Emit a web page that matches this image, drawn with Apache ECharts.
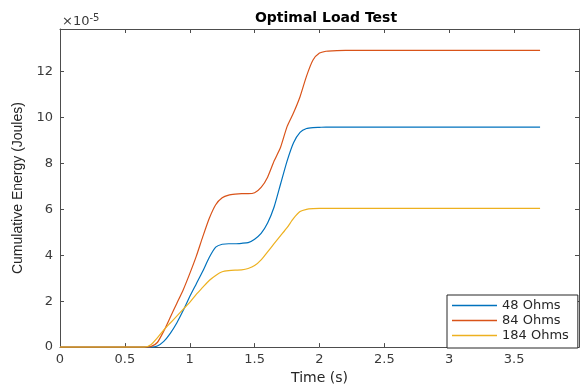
<!DOCTYPE html>
<html lang="en">
<head>
<meta charset="utf-8">
<title>Optimal Load Test</title>
<script src="https://cdn.jsdelivr.net/npm/echarts@6/dist/echarts.min.js"></script>
<style>
  html, body { margin: 0; padding: 0; background: #fff; }
  #main { width: 584px; height: 390px; }
</style>
</head>
<body>
<div id="main"></div>
<script>
// time (s)
var time = [0, 0.5, 0.65, 0.7, 0.75, 0.8, 0.85, 0.9, 0.95, 1.0, 1.05, 1.1, 1.15, 1.2, 1.25, 1.3,
            1.35, 1.4, 1.45, 1.5, 1.55, 1.6, 1.65, 1.7, 1.75, 1.8, 1.85, 1.9, 1.95, 2.0, 2.05,
            2.1, 2.2, 3.7];
// cumulative energy, units of 1e-5 J
var ohms48 = [0, 0, 0, 0, 0.05, 0.25, 0.6, 1.05, 1.6, 2.2, 2.75, 3.3, 3.9, 4.35, 4.48, 4.5,
              4.5, 4.52, 4.55, 4.7, 4.95, 5.4, 6.1, 7.1, 8.1, 8.9, 9.35, 9.52, 9.56, 9.57, 9.58,
              9.58, 9.58, 9.58];
var ohms84 = [0, 0, 0, 0.02, 0.2, 0.7, 1.3, 1.9, 2.5, 3.2, 3.95, 4.8, 5.6, 6.2, 6.5, 6.62,
              6.66, 6.68, 6.68, 6.72, 6.95, 7.4, 8.1, 8.7, 9.6, 10.2, 10.9, 11.8, 12.5, 12.8, 12.88,
              12.9, 12.92, 12.92];
var ohms184 = [0, 0, 0, 0.1, 0.4, 0.75, 1.05, 1.35, 1.65, 1.95, 2.3, 2.6, 2.9, 3.12, 3.28, 3.33,
               3.35, 3.36, 3.42, 3.55, 3.8, 4.15, 4.5, 4.85, 5.2, 5.6, 5.9, 6.0, 6.03, 6.04, 6.04,
               6.04, 6.04, 6.04];
var xTicks = [0, 0.5, 1, 1.5, 2, 2.5, 3, 3.5];
var yTicks = [0, 2, 4, 6, 8, 10, 12];

function pairs(ys) {
    return time.map(function (t, i) { return [t, ys[i]]; });
}

var font = 'DejaVu Sans';
var axisCol = '#4d4d4d';
var chart = echarts.init(document.getElementById('main'));

var baseX = {
    type: 'value', min: 0, max: 4, interval: 0.5,
    axisLine: { show: true, onZero: false, lineStyle: { color: axisCol } },
    axisTick: { show: true, inside: true, length: 4, lineStyle: { color: axisCol } },
    splitLine: { show: false }
};
var baseY = {
    type: 'value', min: 0, max: 13.85, interval: 2,
    axisLine: { show: true, onZero: false, lineStyle: { color: axisCol } },
    axisTick: { show: true, inside: true, length: 4, lineStyle: { color: axisCol } },
    splitLine: { show: false }
};

function mkSeries(name, ys, color) {
    return {
        name: name, type: 'line', data: pairs(ys), symbol: 'none', smooth: 0.2,
        lineStyle: { width: 1.2, color: color }, itemStyle: { color: color },
        xAxisIndex: 0, yAxisIndex: 0
    };
}

chart.setOption({
    backgroundColor: '#fff',
    animation: false,
    title: {
        text: 'Optimal Load Test', left: 321, top: 6, textAlign: 'center',
        textStyle: { fontFamily: font, fontSize: 14, fontWeight: 'bold', color: '#000' }
    },
    grid: { left: 60, right: 5, top: 29, bottom: 40, containLabel: false },
    xAxis: [
        Object.assign({}, baseX, {
            position: 'bottom',
            name: 'Time (s)', nameLocation: 'middle', nameGap: 22,
            nameTextStyle: { fontFamily: font, fontSize: 14, color: '#262626' },
            axisLabel: {
                fontFamily: font, fontSize: 13, color: '#3a3a3a', margin: 6,
                formatter: function (v) { return xTicks.indexOf(v) >= 0 ? String(v) : ''; }
            }
        }),
        Object.assign({}, baseX, { position: 'top', axisLabel: { show: false } })
    ],
    yAxis: [
        Object.assign({}, baseY, {
            position: 'left',
            name: 'Cumulative Energy (Joules)', nameLocation: 'middle', nameGap: 32,
            nameTextStyle: { fontFamily: 'Liberation Sans', fontSize: 14, color: '#262626' },
            axisLabel: {
                fontFamily: font, fontSize: 13, color: '#3a3a3a', margin: 7,
                formatter: function (v) { return yTicks.indexOf(v) >= 0 ? String(v) : ''; }
            }
        }),
        Object.assign({}, baseY, { position: 'right', axisLabel: { show: false } })
    ],
    legend: {
        orient: 'vertical', left: 447, top: 295,
        data: ['48 Ohms', '84 Ohms', '184 Ohms'],
        icon: 'rect', itemWidth: 45, itemHeight: 1.5, itemGap: 2,
        padding: [4, 9, 6, 5],
        backgroundColor: '#fff', borderColor: '#262626', borderWidth: 1, borderRadius: 0,
        textStyle: { fontFamily: font, fontSize: 13, lineHeight: 13, color: '#262626' }
    },
    graphic: [{
        type: 'text', left: 62, top: 13,
        style: {
            text: '{a|×10}{b|-5}',
            rich: {
                a: { fontFamily: font, fontSize: 13, fill: '#3a3a3a' },
                b: { fontFamily: font, fontSize: 10, fill: '#3a3a3a', verticalAlign: 'top', padding: [0, 0, 8, 0] }
            }
        }
    }],
    series: [
        mkSeries('48 Ohms', ohms48, '#0072BD'),
        mkSeries('84 Ohms', ohms84, '#D95319'),
        mkSeries('184 Ohms', ohms184, '#EDB120')
    ]
});
</script>
</body>
</html>
